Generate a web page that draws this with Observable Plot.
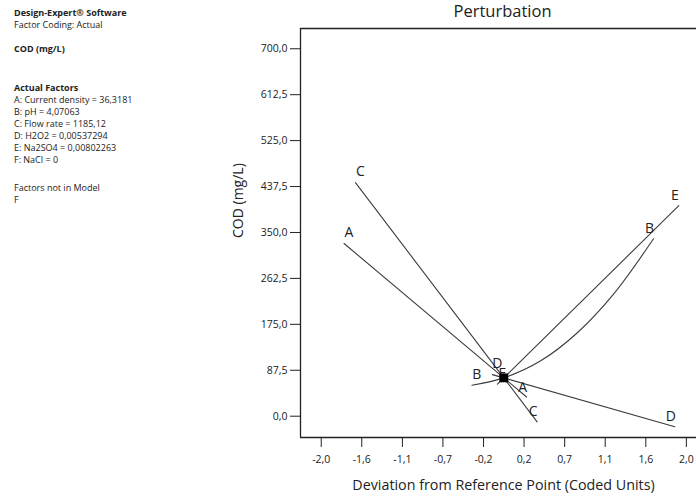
<!DOCTYPE html>
<html>
<head>
<meta charset="utf-8">
<script src="https://cdn.jsdelivr.net/npm/d3@7"></script>
<script src="https://cdn.jsdelivr.net/npm/@observablehq/plot@0.6"></script>
<style>
  html, body { margin: 0; padding: 0; background: #fff; overflow: hidden; }
  #wrap { position: relative; width: 696px; height: 502px; font-family: "Open Sans", "Noto Sans", sans-serif; color: #222; }
  #chart { position: absolute; left: 0; top: 0; }
  .info { position: absolute; left: 14px; font-size: 9px; line-height: 12px; white-space: nowrap; color: #222; }
  .info b { font-weight: 700; }
</style>
</head>
<body>
<div id="wrap">
  <div id="chart"></div>
  <div class="info" style="top:7px"><b>Design-Expert® Software</b><br>Factor Coding: Actual</div>
  <div class="info" style="top:43px"><b>COD (mg/L)</b></div>
  <div class="info" style="top:82px"><b>Actual Factors</b><br>A: Current density = 36,3181<br>B: pH = 4,07063<br>C: Flow rate = 1185,12<br>D: H2O2 = 0,00537294<br>E: Na2SO4 = 0,00802263<br>F: NaCl = 0</div>
  <div class="info" style="top:182px">Factors not in Model<br>F</div>
</div>
<script>
// ---- data ----
const xA = [-1.75, 0, 0.25];
const yA = [329, 73, 36.5];
const xB = [-0.35, 0, 0.4, 0.8, 1.2, 1.64];
const yB = [59, 73, 105, 158, 232, 338];
const xC = [-1.625, 0, 0.365];
const yC = [445, 73, -10.8];
const xD = [-0.125, 0, 1.873];
const yD = [79.2, 73, -20];
const xE = [-0.07, 0, 1.917];
const yE = [61, 73, 401];
const refX = [0];
const refY = [73];

const yTickValues = [0, 87.5, 175, 262.5, 350, 437.5, 525, 612.5, 700];
const yTickLabels = ["0,0", "87,5", "175,0", "262,5", "350,0", "437,5", "525,0", "612,5", "700,0"];
const xTickValues = [-2, -1.556, -1.111, -0.667, -0.222, 0.222, 0.667, 1.111, 1.556, 2];
const xTickLabels = ["-2,0", "-1,6", "-1,1", "-0,7", "-0,2", "0,2", "0,7", "1,1", "1,6", "2,0"];

const xDomain = [-2.227, 2.111];
const yDomain = [-40.6, 738.6];

// ---- build tables ----
const series = [
  {f: "A", xs: xA, ys: yA, curve: "linear"},
  {f: "B", xs: xB, ys: yB, curve: "catmull-rom"},
  {f: "C", xs: xC, ys: yC, curve: "linear"},
  {f: "D", xs: xD, ys: yD, curve: "linear"},
  {f: "E", xs: xE, ys: yE, curve: "linear"}
];
const startLabels = series.map(s => ({f: s.f, x: s.xs[0], y: s.ys[0]}));
const endLabels = series.map(s => ({f: s.f, x: s.xs[s.xs.length - 1], y: s.ys[s.ys.length - 1]}));
const refPts = refX.map((x, i) => ({x, y: refY[i]}));

const lineColor = "#3c3c3c";
const marks = [];
for (const s of series) {
  const pts = s.xs.map((x, i) => ({x, y: s.ys[i]}));
  marks.push(Plot.line(pts, {x: "x", y: "y", stroke: lineColor, strokeWidth: 1.1, curve: s.curve}));
}

const chart = Plot.plot({
  width: 696,
  height: 502,
  marginLeft: 300,
  marginRight: 0,
  marginTop: 28,
  marginBottom: 65,
  style: {fontFamily: "'Open Sans', 'Noto Sans', sans-serif", background: "#fff", color: "#222"},
  x: {domain: xDomain},
  y: {domain: yDomain},
  marks: [
    Plot.axisY({ticks: yTickValues, tickFormat: (d) => yTickLabels[yTickValues.indexOf(d)], tickSize: 10, tickPadding: 3, fontSize: 10.5, label: null, stroke: "#222"}),
    Plot.axisX({ticks: xTickValues, tickFormat: (d) => xTickLabels[xTickValues.indexOf(d)], tickSize: 10, tickPadding: 8, fontSize: 10.5, label: null, stroke: "#222"}),
    Plot.ruleX([xDomain[0]], {stroke: "#222", strokeWidth: 1.3}),
    Plot.ruleY([yDomain[0]], {stroke: "#222", strokeWidth: 1.3}),
    Plot.ruleY([yDomain[1]], {stroke: "#222", strokeWidth: 1.3}),
    ...marks,
    Plot.text(startLabels, {x: "x", y: "y", text: "f", dx: 5, dy: -11, fontSize: 14, fill: "#222"}),
    Plot.text(endLabels, {x: "x", y: "y", text: "f", dx: -4, dy: -10, fontSize: 14, fill: "#222"}),
    Plot.dot(refPts, {x: "x", y: "y", symbol: "square", r: 5, fill: "#000", stroke: "none"}),
    Plot.text(["Perturbation"], {frameAnchor: "top", dx: 4, dy: -23, fontSize: 16.5, fill: "#222"}),
    Plot.text(["Deviation from Reference Point (Coded Units)"], {frameAnchor: "bottom", dx: 5, dy: 52, fontSize: 14.3, fill: "#222"}),
    Plot.text(["COD (mg/L)"], {frameAnchor: "left", dx: -62, dy: 5, rotate: -90, fontSize: 14, fill: "#222"})
  ]
});
document.getElementById("chart").appendChild(chart);
</script>
</body>
</html>
